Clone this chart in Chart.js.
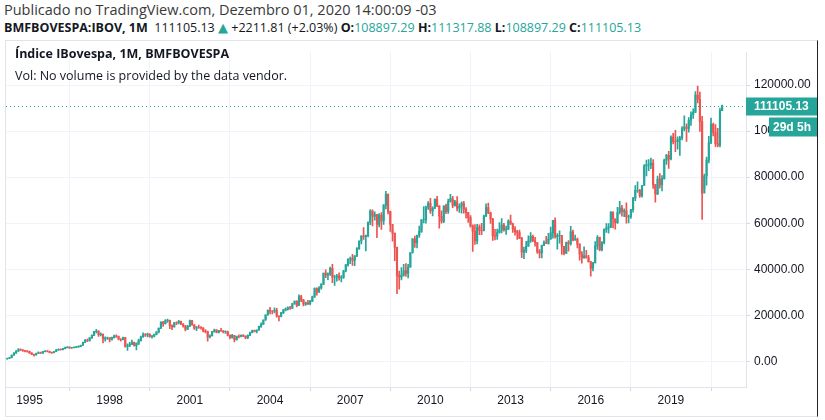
<!DOCTYPE html>
<html>
<head>
<meta charset="utf-8">
<script src="https://cdn.jsdelivr.net/npm/chart.js@4.4.0/dist/chart.umd.min.js"></script>
<style>
  body { margin: 0; width: 825px; height: 420px; background: #fff; overflow: hidden; position: relative;
         font-family: "Open Sans", "Noto Sans", sans-serif; color: #131722; }
  .pub { position: absolute; left: 4px; top: 0px; font-size: 14.5px; color: #3a3a3a; white-space: nowrap; }
  .sym { position: absolute; left: 4px; top: 19px; font-size: 12.5px; white-space: nowrap; }
  .sym b { font-weight: 700; }
  .up { color: #26a69a; }
  .tri { font-family: "DejaVu Sans", sans-serif; font-size: 13px; }
  #pane { position: absolute; left: 5px; top: 40px; width: 811px; height: 375px;
          border: 1px solid #e0e3eb; border-right: 1px solid #222; }
  #wrap { position: absolute; left: 0; top: 0; width: 811px; height: 375px; }
  .legend { position: absolute; left: 9px; top: 2px; font-size: 12.5px; line-height: 22px; white-space: nowrap; }
</style>
</head>
<body>
<div class="pub">Publicado no TradingView.com, Dezembro 01, 2020 14:00:09 -03</div>
<div class="sym"><b>BMFBOVESPA:IBOV, 1M</b>&nbsp; 111105.13 <span class="up tri">▲</span> +2211.81 (+2.03%) <b>O:</b><span class="up">108897.29</span> <b>H:</b><span class="up">111317.88</span> <b>L:</b><span class="up">108897.29</span> <b>C:</b><span class="up">111105.13</span></div>
<div id="pane">
  <div id="wrap"><canvas id="ibov"></canvas></div>
  <div class="legend"><b>Índice IBovespa, 1M, BMFBOVESPA</b><br>Vol: No volume is provided by the data vendor.</div>
</div>
<script>
// monthly candles, Mar 1994 .. Dec 2020 (month index 0 = Jan 1994)
const startMonth = 2;
const firstOpen = 1050;

const closes = [
  1250, 1550, 2650, 3550, 4450, 5150, 4950, 4700, 4450, 4350,                                  // 1994 (Mar-Dec)
  3600, 3000, 2800, 3400, 3800, 3600, 4200, 4500, 4400, 3900, 3800, 4300,                      // 1995
  5000, 5200, 5100, 5500, 6000, 6200, 5800, 5900, 6100, 6300, 6500, 7000,                      // 1996
  8300, 9200, 9100, 10200, 11300, 12900, 13200, 11600, 11700, 9800, 10100, 10200,              // 1997
  9500, 10300, 11100, 10800, 9600, 9500, 10300, 6500, 6900, 7500, 8300, 6800,                  // 1998
  7800, 9000, 10700, 11600, 11500, 11900, 10700, 10800, 11700, 12700, 14400, 17100,            // 1999
  16400, 17660, 17820, 15540, 14960, 16730, 16660, 17380, 16220, 15340, 13940, 15260,          // 2000
  17670, 15890, 14440, 14720, 14650, 14580, 13140, 12900, 10630, 11000, 12950, 13580,          // 2001
  12590, 13350, 13270, 12830, 12970, 11360, 10400, 11300, 9400, 10910, 10850, 11270,           // 2002
  10940, 10280, 11270, 12560, 13420, 12970, 13600, 15170, 16010, 17980, 20180, 22240,          // 2003
  21850, 21760, 22140, 19610, 19540, 21150, 22340, 22800, 23250, 23050, 25130, 26200,          // 2004
  24350, 28140, 26610, 24840, 25390, 25050, 26040, 28040, 31580, 30010, 31920, 33460,          // 2005
  38380, 37480, 37950, 40360, 36530, 36630, 37080, 36230, 36450, 39260, 41930, 44470,          // 2006
  44640, 43890, 45800, 48960, 52270, 54390, 54180, 54640, 60470, 65320, 63010, 63890,          // 2007
  59490, 63490, 60970, 67870, 72590, 65020, 59510, 55680, 49540, 37260, 36600, 37550,          // 2008
  39300, 38180, 40930, 47290, 53200, 51470, 54770, 56490, 61520, 61550, 67040, 68590,          // 2009
  65400, 66500, 70370, 67530, 63050, 60940, 67520, 65150, 69430, 70670, 67710, 69300,          // 2010
  66570, 67380, 68590, 66130, 64620, 62400, 58820, 56500, 52320, 58340, 56870, 56750,          // 2011
  63070, 66810, 64510, 61820, 54490, 54360, 56100, 57060, 59180, 57070, 57470, 60950,          // 2012
  59760, 57420, 56350, 55910, 53510, 47460, 48230, 50010, 52340, 54260, 52480, 51510,          // 2013
  47640, 47090, 50410, 51630, 51240, 53170, 55830, 61290, 54120, 54630, 54720, 50010,          // 2014
  46910, 51580, 51150, 56230, 52760, 53080, 50860, 46630, 45060, 45870, 45120, 43350,          // 2015
  40410, 42790, 50060, 53910, 48470, 51530, 57310, 57900, 58370, 64920, 61910, 60230,          // 2016
  64670, 66660, 64980, 65400, 62710, 62900, 65920, 70840, 74290, 74310, 71970, 76400,          // 2017
  84910, 85350, 85370, 86120, 76750, 72760, 79220, 76680, 79340, 87420, 89500, 87890,          // 2018
  97390, 95580, 95410, 96350, 97030, 100970, 101810, 101130, 104750, 107220, 108230, 115650,   // 2019
  113760, 104170, 73020, 80510, 87400, 95060, 102910, 99370, 94600, 93950, 108893.32, 111105.13 // 2020
];

const highs = [
  1400, 1700, 2800, 3800, 4700, 5500, 5400, 5100, 4800, 4700,
  4500, 3800, 3200, 3600, 4100, 4000, 4400, 4700, 4700, 4500, 4000, 4400,
  5100, 5400, 5400, 5700, 6200, 6400, 6300, 6100, 6300, 6500, 6700, 7100,
  8400, 9500, 9700, 10300, 11500, 13000, 13900, 13300, 12400, 12000, 10700, 10600,
  10300, 10500, 11400, 11500, 11000, 9900, 10600, 10400, 7600, 8300, 9200, 8400,
  8100, 9700, 11000, 12400, 12100, 12300, 12000, 11300, 11900, 12900, 14600, 17200,
  17400, 18100, 18400, 17900, 15900, 16900, 17200, 17800, 17500, 16400, 15600, 15600,
  17900, 17800, 16000, 15200, 15800, 15100, 14600, 13800, 13100, 11500, 13000, 14000,
  13800, 13500, 14400, 13400, 13300, 13100, 11500, 11700, 11300, 11000, 11500, 11500,
  11600, 11100, 11500, 12700, 13600, 13600, 13700, 15300, 16700, 18000, 20200, 22300,
  23500, 22100, 23300, 23000, 19900, 21300, 22600, 23200, 23700, 23900, 25200, 26200,
  26300, 28900, 28700, 26900, 25800, 26500, 26500, 28400, 31900, 31900, 32500, 33800,
  38400, 39800, 38500, 41000, 42100, 37400, 37800, 38500, 37300, 39500, 42100, 44500,
  45300, 46500, 46000, 49400, 52300, 54600, 58100, 54800, 60500, 65900, 65800, 65000,
  63900, 64200, 64600, 68100, 73900, 72800, 65300, 56800, 55700, 49600, 39200, 40700,
  42100, 42500, 42100, 47300, 53300, 54400, 54800, 58800, 61600, 67200, 67400, 69400,
  70800, 67100, 70600, 71700, 67600, 65400, 67600, 68300, 70500, 72500, 71700, 69900,
  71600, 68400, 69300, 69500, 66800, 64700, 63300, 59300, 59400, 59500, 59300, 60000,
  63500, 68400, 68700, 64800, 62100, 57300, 57500, 60300, 62000, 60000, 58800, 61500,
  63500, 60100, 58500, 56900, 57000, 53900, 49600, 52100, 54500, 55900, 54900, 53900,
  51700, 48600, 50500, 52400, 54300, 55600, 58300, 61300, 62300, 55500, 56700, 53000,
  50000, 51800, 52500, 58600, 57000, 54900, 53500, 51200, 47700, 49700, 48200, 46100,
  43300, 43000, 52000, 54600, 54000, 52000, 57600, 59900, 59800, 64900, 64700, 61800,
  66900, 69500, 67800, 66300, 68900, 63500, 66000, 71200, 76400, 78000, 74700, 76500,
  85500, 87400, 87700, 88300, 87700, 76800, 80500, 81600, 80700, 87900, 89900, 91200,
  98000, 99000, 100400, 97500, 97800, 102000, 106700, 103200, 105900, 108400, 109700, 117200,
  119600, 117000, 106400, 81300, 88700, 97800, 105700, 103500, 102800, 101200, 110000, 111317.88
];

const lows = [
  1000, 1200, 1500, 2600, 3400, 4300, 4600, 4300, 4100, 4000,
  3400, 2900, 2300, 2700, 3300, 3400, 3500, 4100, 4100, 3700, 3500, 3700,
  4200, 4800, 4900, 5000, 5400, 5800, 5600, 5600, 5800, 6000, 6100, 6400,
  6900, 8100, 8600, 8800, 10000, 11200, 12400, 10800, 11000, 8000, 8800, 9500,
  8400, 9200, 10100, 10400, 9300, 8800, 9300, 6200, 4800, 6400, 7300, 6600,
  5000, 7300, 8800, 10400, 10800, 10600, 10500, 10100, 10600, 11500, 12400, 14200,
  15200, 16200, 16900, 14200, 13800, 14900, 15900, 16300, 15900, 14900, 13200, 13800,
  15100, 15600, 13900, 13300, 14300, 14000, 12800, 12400, 8800, 10200, 11000, 12700,
  12300, 12300, 13000, 12300, 12100, 11100, 9800, 10100, 8400, 9200, 10200, 10600,
  10700, 9800, 9900, 11200, 12400, 12800, 12400, 13600, 14700, 16000, 17800, 20100,
  20600, 20600, 21000, 19200, 17600, 19300, 20700, 21900, 22200, 22600, 22900, 24700,
  23700, 24300, 25900, 24100, 24300, 24600, 24500, 26000, 27800, 28700, 29900, 31400,
  33300, 36300, 35500, 37300, 34200, 33000, 34800, 35300, 34500, 36000, 38900, 41400,
  42400, 41700, 41600, 45500, 48600, 51000, 53000, 48000, 54000, 59400, 58800, 61300,
  53700, 58400, 57300, 59500, 66200, 64000, 56400, 52200, 43700, 29400, 31400, 35400,
  37000, 36900, 36200, 40900, 47000, 49500, 49300, 53800, 56000, 60100, 60000, 66000,
  64300, 63200, 66300, 67200, 57900, 60000, 60200, 64200, 64300, 69100, 66800, 67400,
  65300, 64700, 64400, 64400, 62200, 60400, 58300, 47800, 50800, 51000, 55000, 55000,
  56700, 63000, 64200, 59900, 52500, 52700, 53000, 55700, 55800, 56600, 55100, 57200,
  59400, 56000, 54800, 53000, 53300, 45000, 44600, 47200, 49900, 51700, 52000, 50000,
  46900, 44900, 44900, 50200, 51200, 50900, 53000, 53500, 53500, 48700, 51300, 46400,
  46200, 46900, 47900, 50500, 52300, 52500, 49300, 44000, 42700, 44700, 44800, 43100,
  37000, 39300, 42800, 48600, 48000, 48000, 51000, 56000, 55700, 58100, 58000, 57400,
  59900, 64000, 63100, 62800, 60000, 60100, 62100, 64800, 69800, 73400, 71200, 71300,
  76400, 80600, 82800, 83700, 75100, 69100, 72400, 75200, 74000, 79100, 85500, 83800,
  87500, 94500, 91100, 92200, 89400, 96200, 100100, 95500, 99600, 102500, 105500, 108000,
  112300, 99900, 61700, 75000, 76500, 86200, 94600, 97900, 93300, 93200, 93200, 108897.29
];

const priceTicks = [0, 20000, 40000, 60000, 80000, 100000, 120000];
const yearTicks = [1995, 1998, 2001, 2004, 2007, 2010, 2013, 2016, 2019];

const upColor = '#26a69a';
const downColor = '#ef5350';

const opens = closes.map((c, i) => i === 0 ? firstOpen : closes[i - 1]);
const months = closes.map((c, i) => startMonth + i);
const colors = closes.map((c, i) => c >= opens[i] ? upColor : downColor);

const lastPricePlugin = {
  id: 'lastPrice',
  afterDraw(chart) {
    const { ctx, chartArea, scales: { y } } = chart;
    const last = closes[closes.length - 1];
    const py = Math.round(y.getPixelForValue(last)) + 0.5;
    ctx.save();
    ctx.strokeStyle = upColor;
    ctx.lineWidth = 1;
    ctx.setLineDash([1, 3]);
    ctx.beginPath();
    ctx.moveTo(chartArea.left, py);
    ctx.lineTo(chartArea.right, py);
    ctx.stroke();
    ctx.setLineDash([]);
    ctx.fillStyle = upColor;
    ctx.fillRect(chartArea.right, py - 9, 71, 18);
    ctx.fillRect(chartArea.right + 23, py + 11, 48, 19);
    ctx.fillStyle = '#fff';
    ctx.font = 'bold 12px "Liberation Sans", Arial, sans-serif';
    ctx.textBaseline = 'middle';
    ctx.fillText(last.toFixed(2), chartArea.right + 8, py + 0.5);
    ctx.fillText('29d 5h', chartArea.right + 27, py + 21);
    ctx.restore();
  }
};

new Chart(document.getElementById('ibov'), {
  type: 'bar',
  data: {
    datasets: [
      {
        label: 'body',
        data: months.map((m, i) => ({ x: m, y: [opens[i], closes[i]] })),
        backgroundColor: colors,
        barThickness: 1.5,
        grouped: false,
        order: 1
      },
      {
        label: 'wick',
        data: months.map((m, i) => ({ x: m, y: [lows[i], highs[i]] })),
        backgroundColor: colors,
        barThickness: 1,
        grouped: false,
        order: 2
      }
    ]
  },
  options: {
    responsive: true,
    maintainAspectRatio: false,
    animation: false,
    layout: { padding: 0 },
    plugins: { legend: { display: false }, tooltip: { enabled: false } },
    scales: {
      x: {
        type: 'linear',
        offset: false,
        min: 1.45,
        max: 333.7,
        afterBuildTicks: axis => { axis.ticks = yearTicks.map(yr => ({ value: (yr - 1994) * 12 })); },
        afterFit: axis => { axis.height = 29; },
        ticks: {
          callback: v => String(1994 + v / 12),
          color: '#131722',
          font: { family: '"Liberation Sans", Arial, sans-serif', size: 12 },
          maxRotation: 0,
          padding: 2
        },
        grid: { color: '#f0f3fa', tickColor: '#d6d9e0', tickLength: 4 },
        border: { color: '#e0e3eb' }
      },
      y: {
        position: 'right',
        min: -11138,
        max: 134290,
        afterBuildTicks: axis => { axis.ticks = priceTicks.map(v => ({ value: v })); },
        afterFit: axis => { axis.width = 71; },
        ticks: {
          callback: v => v.toFixed(2),
          color: '#131722',
          font: { family: '"Liberation Sans", Arial, sans-serif', size: 12 },
          padding: 4
        },
        grid: { color: '#f0f3fa', tickColor: '#d6d9e0', tickLength: 4 },
        border: { color: '#e0e3eb' }
      }
    }
  },
  plugins: [lastPricePlugin]
});
</script>
</body>
</html>
